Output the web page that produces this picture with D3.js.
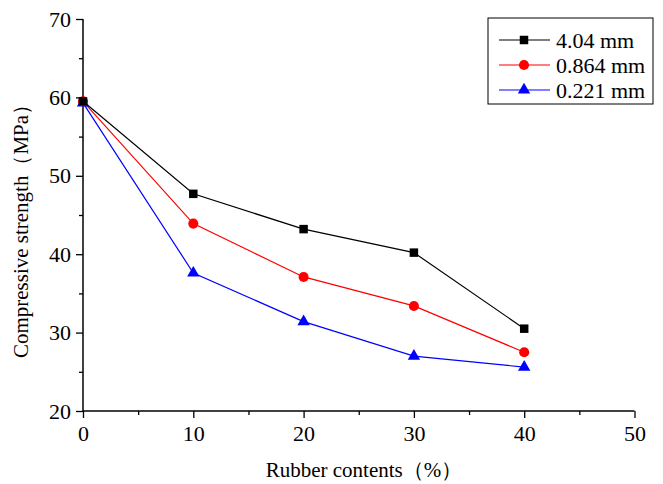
<!DOCTYPE html>
<html>
<head>
<meta charset="utf-8">
<script src="https://cdn.jsdelivr.net/npm/d3@7"></script>
<style>
  body { margin: 0; background: #fff; }
  text { font-family: "Liberation Serif", "Times New Roman", serif; }
</style>
</head>
<body>
<div id="chart"></div>
<script>
const rubberContents = [0, 10, 20, 30, 40];
const seriesNames = ["4.04 mm", "0.864 mm", "0.221 mm"];
const coarse = [59.5, 47.7, 43.2, 40.2, 30.5];
const medium = [59.5, 43.9, 37.1, 33.4, 27.5];
const fine = [59.3, 37.6, 31.4, 27.0, 25.6];
const xTicks = [0, 10, 20, 30, 40, 50];
const yTicks = [20, 30, 40, 50, 60, 70];

const W = 663, H = 484;
const margin = { top: 19, right: 28.5, bottom: 73, left: 83 };
const width = W - margin.left - margin.right;
const height = H - margin.top - margin.bottom;

const svg = d3.select("#chart").append("svg")
  .attr("width", W).attr("height", H);
const g = svg.append("g")
  .attr("transform", `translate(${margin.left},${margin.top})`);

const x = d3.scaleLinear().domain([0, 50]).range([0, width]);
const y = d3.scaleLinear().domain([20, 70]).range([height, 0]);

// axes with major and minor ticks
const xAxis = g.append("g").attr("transform", `translate(0,${height})`)
  .call(d3.axisBottom(x).tickValues(xTicks).tickSize(7).tickPadding(7));
g.append("g").attr("transform", `translate(0,${height})`)
  .call(d3.axisBottom(x).tickValues(d3.range(5, 50, 10)).tickSize(4).tickFormat(""))
  .select(".domain").remove();
const yAxis = g.append("g")
  .call(d3.axisLeft(y).tickValues(yTicks).tickSize(7).tickPadding(5));
g.append("g")
  .call(d3.axisLeft(y).tickValues(d3.range(25, 70, 10)).tickSize(4).tickFormat(""))
  .select(".domain").remove();

g.selectAll(".domain").attr("stroke", "#000").attr("stroke-width", 1.5);
g.selectAll(".tick line").attr("stroke", "#000").attr("stroke-width", 1.3);
g.selectAll(".tick text").attr("fill", "#000")
  .style("font-size", "22px");
xAxis.selectAll(".domain").attr("d", `M0,0H${width}`);
yAxis.selectAll(".domain").attr("d", `M0,${height}V0`);

const series = [
  { name: seriesNames[0], values: coarse, color: "#000000", shape: d3.symbolSquare, size: 72 },
  { name: seriesNames[1], values: medium, color: "#ff0000", shape: d3.symbolCircle, size: 80 },
  { name: seriesNames[2], values: fine, color: "#0000ff", shape: d3.symbolTriangle, size: 66 }
];

const line = d3.line().x((d, i) => x(rubberContents[i])).y(d => y(d));

series.slice().reverse().forEach(s => {
  g.append("path").datum(s.values)
    .attr("fill", "none").attr("stroke", s.color).attr("stroke-width", 1.2)
    .attr("d", line);
});
series.slice().reverse().forEach(s => {
  g.selectAll(null).data(s.values).join("path")
    .attr("transform", (d, i) => `translate(${x(rubberContents[i])},${y(d)})`)
    .attr("d", d3.symbol().type(s.shape).size(s.size))
    .attr("fill", s.color);
});

// axis titles
svg.append("text")
  .attr("x", 364).attr("y", 477)
  .attr("text-anchor", "middle").style("font-size", "21px")
  .text("Rubber contents（%）");
svg.append("text")
  .attr("transform", `translate(28,226) rotate(-90)`)
  .attr("text-anchor", "middle").style("font-size", "21px")
  .text("Compressive strength（MPa）");

// legend
const legend = svg.append("g").attr("transform", "translate(488,18)");
legend.append("rect").attr("width", 165).attr("height", 86)
  .attr("fill", "#fff").attr("stroke", "#000").attr("stroke-width", 1);
series.forEach((s, i) => {
  const ly = 22 + i * 25;
  legend.append("line").attr("x1", 11).attr("x2", 62).attr("y1", ly).attr("y2", ly)
    .attr("stroke", s.color).attr("stroke-width", 1.2);
  legend.append("path").attr("transform", `translate(36,${ly})`)
    .attr("d", d3.symbol().type(s.shape).size(s.size)).attr("fill", s.color);
  legend.append("text").attr("x", 68).attr("y", ly).attr("dy", "0.35em")
    .style("font-size", "22px").text(s.name);
});
</script>
</body>
</html>
